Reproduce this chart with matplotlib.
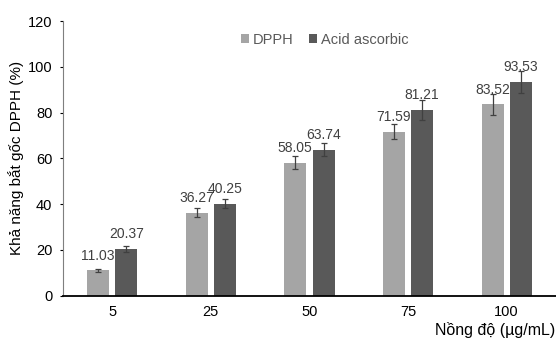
import numpy as np
import matplotlib.pyplot as plt

plt.rcParams['font.family'] = ['Liberation Sans', 'DejaVu Sans']

# số liệu
nong_do = ['5', '25', '50', '75', '100']
dpph = [11.03, 36.27, 58.05, 71.59, 83.52]
dpph_err = [0.7, 1.9, 2.8, 3.3, 4.4]
acid = [20.37, 40.25, 63.74, 81.21, 93.53]
acid_err = [1.5, 2.0, 2.8, 4.3, 4.8]

c_dpph = '#a5a5a5'
c_acid = '#595959'

fig = plt.figure(figsize=(5.56, 3.39), dpi=100)
ax = fig.add_axes([0.113, 0.128, 0.887, 0.81])

x = np.arange(len(nong_do))
w = 0.223
off = 0.143
ekw = dict(ecolor='#404040', elinewidth=0.9, capsize=2.5, capthick=0.9)
ax.bar(x - off, dpph, w, color=c_dpph, label='DPPH', yerr=dpph_err, error_kw=ekw)
ax.bar(x + off, acid, w, color=c_acid, label='Acid ascorbic', yerr=acid_err, error_kw=ekw)

for xs, vals in [(x - off, dpph), (x + off, acid)]:
    for xi, v in zip(xs, vals):
        ax.annotate('%.2f' % v, (xi, v), xytext=(0, 10.6), textcoords='offset points',
                    ha='center', va='center', fontsize=10, color='#404040')

ax.set_ylim(0, 120)
ax.set_yticks(np.arange(0, 121, 20))
ax.set_xlim(-0.5, 4.5)
ax.set_xticks(x)
ax.set_xticklabels(nong_do)
ax.tick_params(axis='x', length=0, pad=7, labelsize=10.5)
ax.tick_params(axis='y', length=2.5, width=0.8, labelsize=10.5, pad=5)
for s in ['top', 'right']:
    ax.spines[s].set_visible(False)
ax.spines['left'].set_color('#7f7f7f')
ax.spines['left'].set_linewidth(0.8)
ax.spines['bottom'].set_color('black')
ax.spines['bottom'].set_linewidth(1.3)

ax.set_ylabel('Khả năng bắt gốc DPPH (%)', fontsize=11, labelpad=3)
fig.text(0.998, 0.027, 'Nồng độ (µg/mL)', ha='right', va='center', fontsize=11.5)

leg = ax.legend(loc='center', bbox_to_anchor=(0.531, 0.931), ncol=2, frameon=False,
                fontsize=10.5, handlelength=0.55, handleheight=0.55, handletextpad=0.25,
                columnspacing=1.1, borderpad=0)
for t in leg.get_texts():
    t.set_color('#595959')

fig.savefig('out.png', dpi=100)
